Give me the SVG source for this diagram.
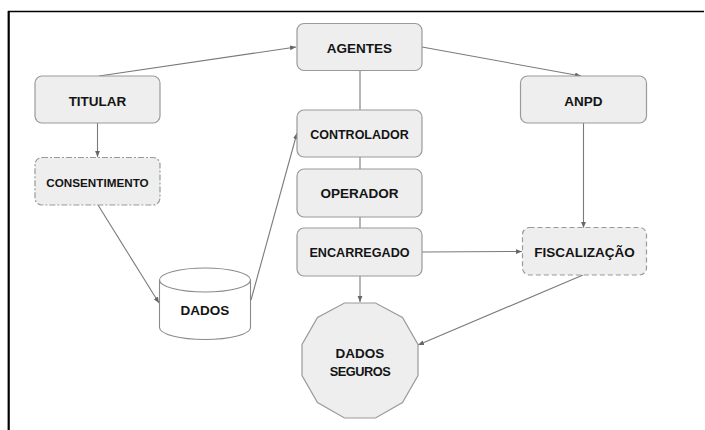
<svg xmlns="http://www.w3.org/2000/svg" width="705" height="430" viewBox="0 0 705 430">
  <defs>
    <marker id="arrow" viewBox="0 0 10 10" refX="10" refY="5" markerWidth="6" markerHeight="6" orient="auto" markerUnits="userSpaceOnUse">
      <path d="M0,1 L10,5 L0,9 Z" fill="#666"/>
    </marker>
    <style>
      .node { fill: #eeeeee; stroke: #9a9a9a; stroke-width: 1.2; }
      .dashA { stroke-dasharray: 6 2 2 2; }
      .dashB { stroke-dasharray: 5 3; }
      .cyl { fill: #ffffff; stroke: #8a8a8a; stroke-width: 1.1; }
      .lbl { font-family: "Liberation Sans", Arial, Helvetica, sans-serif; font-weight: bold; font-size: 13.5px; fill: #141414; text-anchor: middle; }
      .edge { fill: none; stroke: #7a7a7a; stroke-width: 1.1; }
      .frame { stroke: #000; fill: none; }
    </style>
  </defs>

  <rect width="705" height="430" fill="#ffffff"/>

  <!-- page frame -->
  <line class="frame" x1="8" y1="11.5" x2="704" y2="11.5" stroke-width="1.5"/>
  <line class="frame" x1="8.7" y1="11" x2="8.7" y2="430" stroke-width="2.2"/>

  <!-- connectors -->
  <g id="connectors">
    <line class="edge" x1="99" y1="76" x2="296" y2="47" marker-end="url(#arrow)"/>
    <line class="edge" x1="422" y1="47" x2="581" y2="76" marker-end="url(#arrow)"/>
    <line class="edge" x1="360" y1="71" x2="360" y2="110"/>
    <line class="edge" x1="360" y1="157" x2="360" y2="169"/>
    <line class="edge" x1="360" y1="217" x2="360" y2="228"/>
    <line class="edge" x1="97.5" y1="123" x2="97.5" y2="157" marker-end="url(#arrow)"/>
    <line class="edge" x1="98" y1="205" x2="159" y2="303" marker-end="url(#arrow)"/>
    <line class="edge" x1="251" y1="300" x2="297" y2="133" marker-end="url(#arrow)"/>
    <line class="edge" x1="583.5" y1="123" x2="583.5" y2="228" marker-end="url(#arrow)"/>
    <line class="edge" x1="422" y1="252" x2="522" y2="251.5" marker-end="url(#arrow)"/>
    <line class="edge" x1="360" y1="276" x2="360" y2="302" marker-end="url(#arrow)"/>
    <line class="edge" x1="583" y1="275" x2="418" y2="345" marker-end="url(#arrow)"/>
  </g>

  <g id="titular">
    <rect class="node" x="35" y="76" width="125" height="47" rx="7"/>
    <text class="lbl" x="97.5" y="106">TITULAR</text>
  </g>

  <g id="agentes">
    <rect class="node" x="297" y="23.5" width="125" height="47" rx="7"/>
    <text class="lbl" x="359.5" y="53">AGENTES</text>
  </g>

  <g id="anpd">
    <rect class="node" x="520.5" y="76" width="126" height="47" rx="7"/>
    <text class="lbl" x="583.5" y="106">ANPD</text>
  </g>

  <g id="consentimento">
    <rect class="node dashA" x="35" y="157.5" width="125" height="47.5" rx="7"/>
    <text class="lbl" x="97.5" y="186.5" style="font-size:11.7px">CONSENTIMENTO</text>
  </g>

  <g id="controlador">
    <rect class="node" x="297" y="110" width="125" height="47" rx="7"/>
    <text class="lbl" x="359.5" y="139" style="font-size:12.5px">CONTROLADOR</text>
  </g>

  <g id="operador">
    <rect class="node" x="297" y="169" width="125" height="48" rx="7"/>
    <text class="lbl" x="359.5" y="198">OPERADOR</text>
  </g>

  <g id="encarregado">
    <rect class="node" x="297" y="228" width="125" height="48" rx="7"/>
    <text class="lbl" x="359.5" y="256.5" style="font-size:12.6px">ENCARREGADO</text>
  </g>

  <g id="fiscalizacao">
    <rect class="node dashB" x="522.5" y="227.5" width="124" height="47.5" rx="7"/>
    <text class="lbl" x="584.5" y="256.5">FISCALIZAÇÃO</text>
  </g>

  <g id="dados">
    <path class="cyl" d="M159.5,280 L159.5,327.5 A45.5,12 0 0 0 250.5,327.5 L250.5,280 A45.5,12 0 0 0 159.5,280 Z"/>
    <path class="cyl" d="M159.5,280 A45.5,12 0 0 0 250.5,280" fill="none"/>
    <text class="lbl" x="205" y="315">DADOS</text>
  </g>

  <g id="dados-seguros">
    <polygon class="node" points="418,344.5 418,375.5 402.5,402.5 375.5,418 344.5,418 317.5,402.5 302,375.5 302,344.5 317.5,317.5 344.5,303 375.5,303 402.5,317.5"/>
    <text class="lbl" x="360" y="358">DADOS</text>
    <text class="lbl" x="360" y="375.5" style="font-size:12.8px;letter-spacing:-0.5px">SEGUROS</text>
  </g>
</svg>
